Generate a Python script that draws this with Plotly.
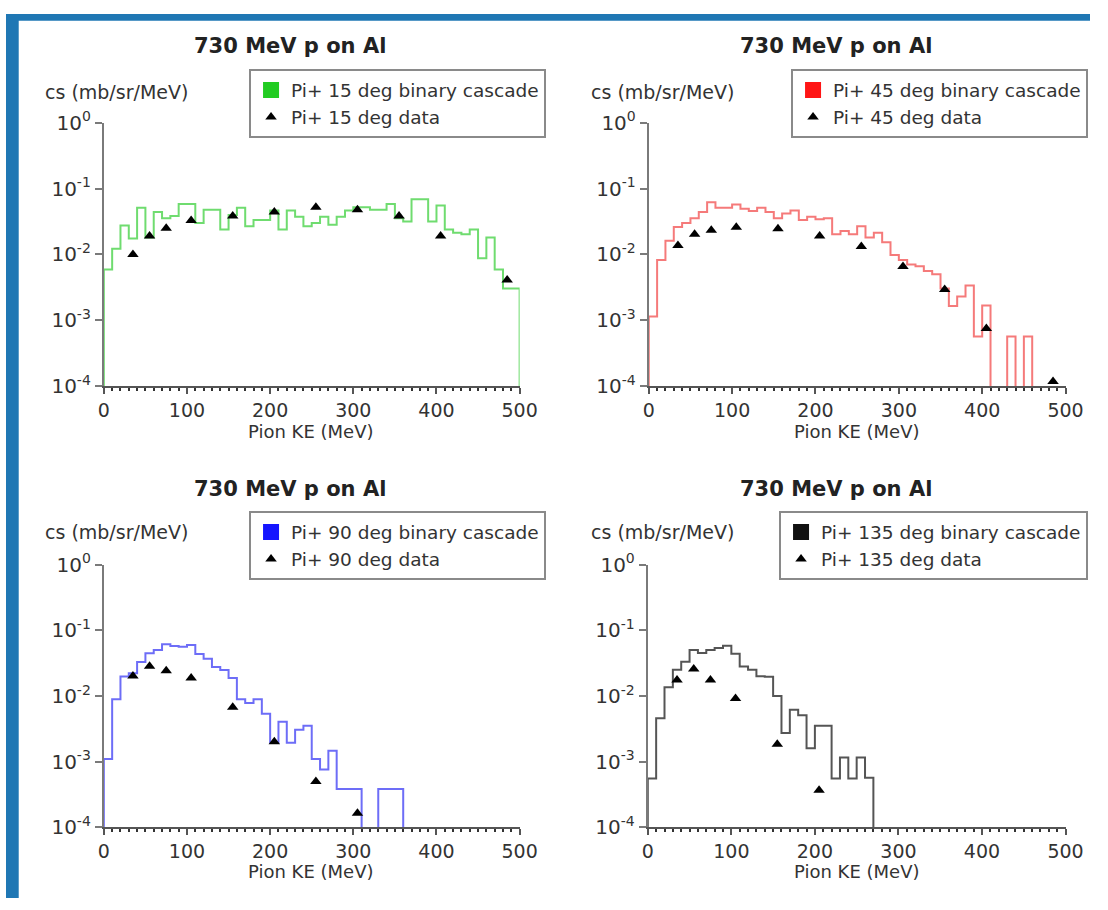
import plotly.graph_objects as go

# ---------------- data ----------------
bin_edges = list(range(0, 510, 10))          # 10 MeV bins, 0..500 MeV
x_ticks = [0, 100, 200, 300, 400, 500]
y_ticks = [1, 0.1, 0.01, 0.001, 0.0001]
y_ticktext = ["10<sup>0</sup>", "10<sup>-1</sup>", "10<sup>-2</sup>", "10<sup>-3</sup>", "10<sup>-4</sup>"]

title_text = "730 MeV p on Al"
x_label = "Pion KE (MeV)"
y_label = "cs (mb/sr/MeV)"

cascade_15 = [0.0059, 0.0122, 0.0274, 0.0175, 0.0512, 0.0181, 0.0443, 0.0354, 0.0383, 0.0585,
              0.0585, 0.0299, 0.0478, 0.0478, 0.0239, 0.0396, 0.0512, 0.0267, 0.0334, 0.0334,
              0.0467, 0.0239, 0.0467, 0.0374, 0.0267, 0.0299, 0.0374, 0.0283, 0.0374, 0.0467,
              0.0523, 0.0523, 0.0478, 0.0478, 0.0585, 0.0354, 0.0316, 0.0692, 0.0692, 0.0316,
              0.0553, 0.0239, 0.0214, 0.0202, 0.0239, 0.00875, 0.0181, 0.0059, 0.00303, 0.00303]
cascade_45 = [0.00114, 0.00826, 0.0162, 0.0261, 0.0299, 0.0354, 0.0443, 0.0618, 0.0512, 0.0512,
              0.0572, 0.0494, 0.0457, 0.0512, 0.0443, 0.0354, 0.0418, 0.0467, 0.0334, 0.0374,
              0.0342, 0.0354, 0.0202, 0.0226, 0.0202, 0.0267, 0.0181, 0.0214, 0.0153, 0.00977,
              0.00826, 0.0070, 0.0066, 0.0056, 0.0050, 0.00303, 0.00164, 0.00229, 0.00338, 0.000565,
              0.00167, 0, 0, 0.000565, 0, 0.000565, 0, 0, 0, 0]
cascade_90 = [0.00109, 0.00893, 0.0198, 0.0221, 0.0329, 0.0447, 0.0501, 0.0614, 0.0580, 0.0561,
              0.0600, 0.0437, 0.0369, 0.0277, 0.0248, 0.0187, 0.00893, 0.0078, 0.00893, 0.00536,
              0.00193, 0.00404, 0.00193, 0.00304, 0.00352, 0.00109, 0.000753, 0.00146, 0.000381, 0.000381,
              0.000381, 0, 0, 0.000381, 0.000381, 0.000381, 0, 0, 0, 0,
              0, 0, 0, 0, 0, 0, 0, 0, 0, 0]
cascade_135 = [0.00055, 0.00456, 0.01355, 0.0251, 0.0333, 0.0504, 0.0451, 0.0504, 0.0540, 0.0583,
               0.0441, 0.0281, 0.0251, 0.0200, 0.0196, 0.0100, 0.00272, 0.00616, 0.00509, 0.0016,
               0.00352, 0.00352, 0.00055, 0.00115, 0.00055, 0.00115, 0.000564, 0, 0, 0,
               0, 0, 0, 0, 0, 0, 0, 0, 0, 0,
               0, 0, 0, 0, 0, 0, 0, 0, 0, 0]

data_x_15 = [35, 55, 75, 105, 155, 205, 255, 305, 355, 405, 485]
data_y_15 = [0.0100, 0.0191, 0.0250, 0.0327, 0.0383, 0.0443, 0.0523, 0.0478, 0.0383, 0.0191, 0.0041]
data_x_45 = [35, 55, 75, 105, 155, 205, 255, 305, 355, 405, 485]
data_y_45 = [0.0137, 0.0202, 0.0234, 0.0259, 0.0245, 0.0191, 0.0132, 0.00655, 0.00292, 0.000748, 0.000117]
data_x_90 = [35, 55, 75, 105, 155, 205, 255, 305]
data_y_90 = [0.0202, 0.0284, 0.0242, 0.0187, 0.00673, 0.0020, 0.000495, 0.000163]
data_x_135 = [35, 55, 75, 105, 155, 205]
data_y_135 = [0.0175, 0.0257, 0.0175, 0.00914, 0.00183, 0.000364]

# ---------------- styling ----------------
W, H = 1108, 910
FONT = "DejaVu Sans"
TXT = "#333333"
AXY = "#7a7a7a"
AXX = "#555555"
floor = 1e-5          # empty bins are drawn below the visible range (clipped at the axis)


def px(x):
    return x / W


def py(y):
    return 1 - y / H


panels = [
    dict(ang="15", hist=cascade_15, dx=data_x_15, dy=data_y_15, line="#6fdc6f", sq="#22cc22",
         xpx=(100, 525), ypx=(112, 383), title_px=(290, 33), ylab_px=(38, 80), xlab_px=(311, 430),
         leg_px=(552, 57)),
    dict(ang="45", hist=cascade_45, dx=data_x_45, dy=data_y_45, line="#f57a7a", sq="#ff1515",
         xpx=(657, 1083), ypx=(112, 383), title_px=(848, 33), ylab_px=(596, 80), xlab_px=(869, 430),
         leg_px=(1106, 57)),
    dict(ang="90", hist=cascade_90, dx=data_x_90, dy=data_y_90, line="#6d6df7", sq="#1515ff",
         xpx=(100, 525), ypx=(567, 837), title_px=(290, 489), ylab_px=(38, 533), xlab_px=(311, 883),
         leg_px=(552, 512)),
    dict(ang="135", hist=cascade_135, dx=data_x_135, dy=data_y_135, line="#555555", sq="#111111",
         xpx=(656, 1083), ypx=(567, 837), title_px=(848, 489), ylab_px=(596, 533), xlab_px=(869, 883),
         leg_px=(1106, 512)),
]

fig = go.Figure()
layout = dict(
    width=W, height=H,
    margin=dict(l=0, r=0, t=0, b=0),
    paper_bgcolor="white", plot_bgcolor="white",
    showlegend=True,
    font=dict(family=FONT, size=18, color=TXT),
)
annotations = []

for i, p in enumerate(panels):
    k = "" if i == 0 else str(i + 1)
    xa, ya = "x" + k, "y" + k
    leg = "legend" + k

    hx = [bin_edges[0], bin_edges[0]] + bin_edges[1:-1] + [bin_edges[-1], bin_edges[-1]]
    vals = [v if v > 0 else floor for v in p["hist"]]
    hy = [floor, vals[0]] + vals[1:] + [vals[-1], floor]
    fig.add_trace(go.Scatter(x=hx, y=hy, mode="lines", line=dict(color=p["line"], width=2, shape="hv"),
                             xaxis=xa, yaxis=ya, showlegend=False, hoverinfo="skip"))
    fig.add_trace(go.Scatter(x=[None], y=[None], mode="markers",
                             marker=dict(symbol="square", size=16, color=p["sq"]),
                             name=f"Pi+ {p['ang']} deg binary cascade", xaxis=xa, yaxis=ya, legend=leg))
    fig.add_trace(go.Scatter(x=p["dx"], y=p["dy"], mode="markers",
                             marker=dict(symbol="triangle-up", size=10, color="black"),
                             name=f"Pi+ {p['ang']} deg data", xaxis=xa, yaxis=ya, legend=leg,
                             cliponaxis=False))

    x0, x1 = p["xpx"]
    y0, y1 = p["ypx"]
    layout["xaxis" + k] = dict(
        domain=[px(x0), px(x1)], anchor=ya, range=[0, 500],
        showline=True, linecolor=AXX, linewidth=2, ticks="outside", ticklen=6, tickwidth=2, tickcolor=AXX,
        tickvals=x_ticks, tickfont=dict(size=19, color=TXT, family=FONT),
        showgrid=False, zeroline=False,
        minor=dict(dtick=10, ticks="outside", ticklen=3, tickwidth=1.5, tickcolor="#333333", showgrid=False),
    )
    layout["yaxis" + k] = dict(
        domain=[py(y1), py(y0)], anchor=xa, type="log", range=[-4, 0],
        showline=True, linecolor=AXY, linewidth=2, ticks="outside", ticklen=7, tickwidth=2, tickcolor=AXY,
        tickvals=y_ticks, ticktext=y_ticktext, tickfont=dict(size=20, color=TXT, family=FONT),
        showgrid=False, zeroline=False,
    )
    lx, ly = p["leg_px"]
    layout[leg] = dict(
        x=px(lx), y=py(ly), xanchor="right", yanchor="top",
        bgcolor="white", bordercolor="#8a8a8a", borderwidth=2,
        font=dict(size=18.5, color=TXT, family=FONT), tracegroupgap=0, itemclick=False,
    )

    tx, ty = p["title_px"]
    annotations.append(dict(text=f"<b>{title_text}</b>", x=px(tx), y=py(ty), xref="paper", yref="paper",
                            showarrow=False, xanchor="center", yanchor="middle",
                            font=dict(size=21, color="#222222", family=FONT)))
    yx, yy = p["ylab_px"]
    annotations.append(dict(text=y_label, x=px(yx), y=py(yy), xref="paper", yref="paper",
                            showarrow=False, xanchor="left", yanchor="middle",
                            font=dict(size=19, color=TXT, family=FONT)))
    lx2, ly2 = p["xlab_px"]
    annotations.append(dict(text=x_label, x=px(lx2), y=py(ly2), xref="paper", yref="paper",
                            showarrow=False, xanchor="center", yanchor="middle",
                            font=dict(size=18, color=TXT, family=FONT)))

layout["annotations"] = annotations
layout["shapes"] = [
    dict(type="rect", xref="paper", yref="paper", x0=0, x1=1, y0=py(7), y1=1,
         fillcolor="#1f77b4", line=dict(width=0), layer="above"),
    dict(type="rect", xref="paper", yref="paper", x0=0, x1=px(13), y0=0, y1=1,
         fillcolor="#1f77b4", line=dict(width=0), layer="above"),
]
fig.update_layout(**layout)

# let the 1108x910 figure fill the window exactly (no default page margin)
page_fit = """
document.documentElement.style.margin = '0px';
document.body.style.margin = '0px';
document.body.style.overflow = 'hidden';
"""
fig.write_html("out.html", post_script=page_fit, config={"displayModeBar": False})
